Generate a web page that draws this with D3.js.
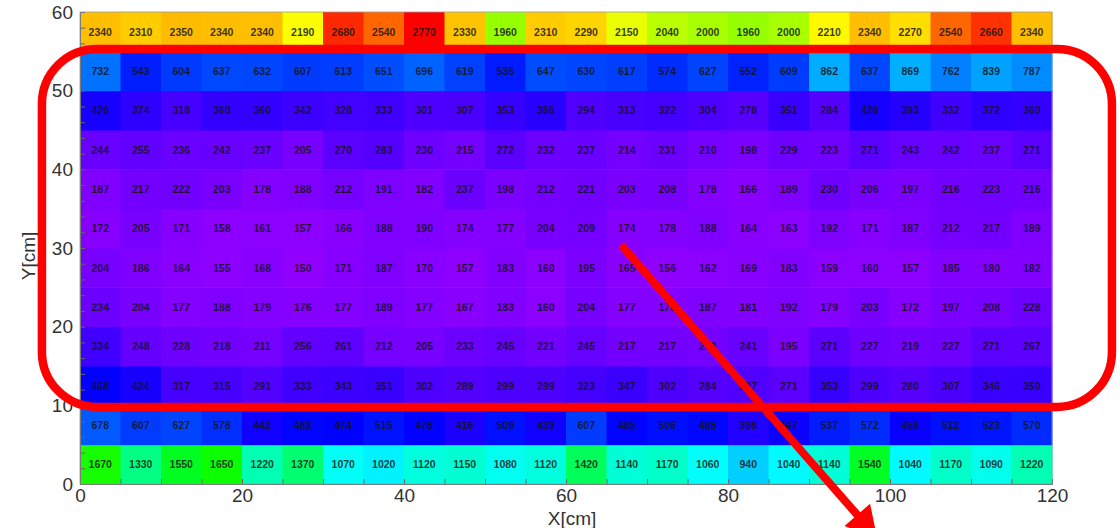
<!DOCTYPE html>
<html>
<head>
<meta charset="utf-8">
<script src="https://cdn.jsdelivr.net/npm/d3@7"></script>
<style>
  html, body { margin:0; padding:0; background:#fff; }
  svg { display:block; font-family: Arial, "Liberation Sans", Helvetica, sans-serif; }
</style>
</head>
<body>
<svg id="chart" width="1120" height="528"></svg>
<script>
// cell grid: 24 columns x 12 rows, each 5 cm
const xEdges = d3.range(0, 125, 5)
const yEdges = d3.range(0, 65, 5)
const xTicks = [0, 20, 40, 60, 80, 100, 120]
const yTicks = [0, 10, 20, 30, 40, 50, 60]

// rows listed from bottom (y 0-5) to top (y 55-60)
const row0  = [1670,1330,1550,1650,1220,1370,1070,1020,1120,1150,1080,1120,1420,1140,1170,1060,940,1040,1140,1540,1040,1170,1090,1220]
const row1  = [678,607,627,578,442,483,474,515,478,416,509,439,607,485,506,488,398,447,537,572,456,512,523,570]
const row2  = [468,424,317,315,291,333,343,351,302,289,299,299,323,347,302,284,297,271,353,299,280,307,346,350]
const row3  = [334,248,228,218,211,256,261,212,205,233,245,221,245,217,217,213,241,195,271,227,219,227,271,267]
const row4  = [234,204,177,188,179,176,177,189,177,167,183,160,204,177,178,187,181,192,179,203,172,197,208,228]
const row5  = [204,186,164,155,168,150,171,187,170,157,183,160,195,165,156,162,169,183,159,160,157,185,180,182]
const row6  = [172,205,171,158,161,157,166,188,190,174,177,204,209,174,178,188,164,163,192,171,187,212,217,189]
const row7  = [187,217,222,203,178,188,212,191,182,237,198,212,221,203,208,178,166,189,230,206,197,216,223,216]
const row8  = [244,255,236,242,237,205,270,283,230,215,272,232,237,214,231,210,198,229,223,271,243,242,237,271]
const row9  = [426,374,318,360,360,342,328,333,301,307,353,386,294,313,322,304,278,351,284,428,393,332,372,360]
const row10 = [732,543,604,637,632,607,613,651,696,619,535,647,630,617,574,627,552,609,862,637,869,762,839,787]
const row11 = [2340,2310,2350,2340,2340,2190,2680,2540,2770,2330,1960,2310,2290,2150,2040,2000,1960,2000,2210,2340,2270,2540,2660,2340]
const rows = [row0,row1,row2,row3,row4,row5,row6,row7,row8,row9,row10,row11]

// annotation overlay in data units (cm)
const boxCorners = { x0:-4.7, x1:127.4, y0:9.8, y1:55.3 }
const arrowFrom = [66.8, 30.4]
const arrowTo   = [98.4, -6.8]

const svg = d3.select('#chart')
const x = d3.scaleLinear([0, 120], [80, 1052])
const y = d3.scaleLinear([0, 60], [484, 12])

const vmin = d3.min(rows.flat()), vmax = d3.max(rows.flat())
const hue = d3.scaleLinear([vmin, vmax], [274, 0]).clamp(true)
const color = v => d3.hsl(hue(v), 1, 0.5).toString()

const cells = []
rows.forEach((r, j) => r.forEach((v, i) => cells.push({ i, j, v })))

const gCells = svg.append('g')
gCells.selectAll('rect').data(cells).enter().append('rect')
  .attr('x', d => x(xEdges[d.i]))
  .attr('y', d => y(yEdges[d.j + 1]))
  .attr('width', d => x(xEdges[d.i + 1]) - x(xEdges[d.i]) + 0.5)
  .attr('height', d => y(yEdges[d.j]) - y(yEdges[d.j + 1]) + 0.5)
  .attr('fill', d => color(d.v))

gCells.selectAll('text').data(cells).enter().append('text')
  .attr('x', d => x(xEdges[d.i] + 2.5))
  .attr('y', d => y(yEdges[d.j] + 2.5))
  .attr('text-anchor', 'middle')
  .attr('dominant-baseline', 'central')
  .attr('font-size', 10.5)
  .attr('font-weight', 'bold')
  .attr('fill', '#141414')
  .attr('fill-opacity', 0.85)
  .text(d => d.v)

// axes
const axisCol = '#666'
const gx = svg.append('g').attr('transform', `translate(0,${y(0)})`)
  .call(d3.axisBottom(x).tickValues(d3.range(0, 121, 5)).tickSize(-5).tickFormat(''))
const gxl = svg.append('g').attr('transform', `translate(0,${y(0)})`)
  .call(d3.axisBottom(x).tickValues(xTicks).tickSize(0).tickPadding(5))
const gy = svg.append('g').attr('transform', `translate(${x(0)},0)`)
  .call(d3.axisLeft(y).tickValues(d3.range(0, 61, 2)).tickSize(-5).tickFormat(''))
const gyl = svg.append('g').attr('transform', `translate(${x(0)},0)`)
  .call(d3.axisLeft(y).tickValues(yTicks).tickSize(0).tickPadding(7))
for (const g of [gx, gy]) {
  g.selectAll('line').attr('stroke', axisCol)
  g.select('.domain').attr('stroke', axisCol)
}
for (const g of [gxl, gyl]) {
  g.select('.domain').remove()
  g.selectAll('text').attr('font-size', 19).attr('fill', '#333')
    .style('font-family', 'Arial, "Liberation Sans", sans-serif')
}
svg.append('rect')
  .attr('x', x(0)).attr('y', y(60))
  .attr('width', x(120) - x(0)).attr('height', y(0) - y(60))
  .attr('fill', 'none').attr('stroke', '#999').attr('stroke-width', 0.8)

svg.append('text').attr('x', x(60) + 6).attr('y', 518)
  .attr('text-anchor', 'middle').attr('dominant-baseline', 'central')
  .attr('font-size', 19).attr('fill', '#333').text('X[cm]')
svg.append('text').attr('transform', `translate(28,${y(30) + 8}) rotate(-90)`)
  .attr('text-anchor', 'middle').attr('dominant-baseline', 'central')
  .attr('font-size', 19).attr('fill', '#333').text('Y[cm]')

// red highlight box and arrow
const red = '#ff0000'
svg.append('rect')
  .attr('x', x(boxCorners.x0)).attr('y', y(boxCorners.y1))
  .attr('width', x(boxCorners.x1) - x(boxCorners.x0))
  .attr('height', y(boxCorners.y0) - y(boxCorners.y1))
  .attr('rx', 55).attr('ry', 55)
  .attr('fill', 'none').attr('stroke', red).attr('stroke-width', 8.5)

const ax = x(arrowFrom[0]), ay = y(arrowFrom[1])
const bx = x(arrowTo[0]), by = y(arrowTo[1])
const len = Math.hypot(bx - ax, by - ay)
const ux = (bx - ax) / len, uy = (by - ay) / len
const headLen = 30, headHalf = 17
const hx = bx - ux * headLen, hy = by - uy * headLen
svg.append('line')
  .attr('x1', ax).attr('y1', ay).attr('x2', hx + ux * 2).attr('y2', hy + uy * 2)
  .attr('stroke', red).attr('stroke-width', 8)
svg.append('path')
  .attr('d', `M${bx},${by} L${hx - uy * headHalf},${hy + ux * headHalf} L${hx + uy * headHalf},${hy - ux * headHalf} Z`)
  .attr('fill', red)
</script>
</body>
</html>
